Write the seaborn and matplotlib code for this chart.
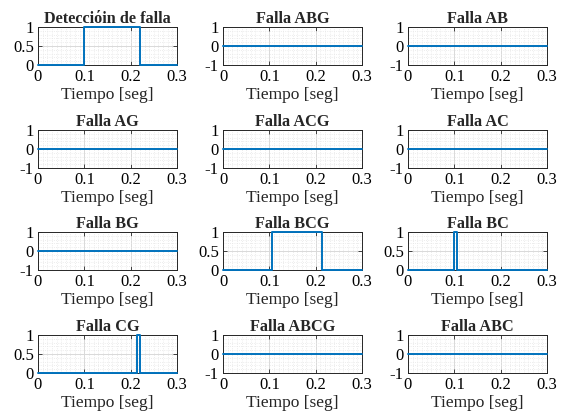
import numpy as np
import pandas as pd
import seaborn as sns
import matplotlib.pyplot as plt
from matplotlib.ticker import MultipleLocator

sns.set_style("white")
plt.rcParams['font.family'] = ['Liberation Serif', 'DejaVu Serif']

titles = ["Detecciόin de falla", "Falla ABG", "Falla AB",
          "Falla AG", "Falla ACG", "Falla AC",
          "Falla BG", "Falla BCG", "Falla BC",
          "Falla CG", "Falla ABCG", "Falla ABC"]

# Switching instants (s) and the output level held from each instant on
t_det = [0.0, 0.100, 0.221, 0.3];  v_det = [0, 1, 0, 0]
t_bcg = [0.0, 0.106, 0.213, 0.3];  v_bcg = [0, 1, 0, 0]
t_bc = [0.0, 0.100, 0.106, 0.3];   v_bc = [0, 1, 0, 0]
t_cg = [0.0, 0.213, 0.221, 0.3];   v_cg = [0, 1, 0, 0]
t_flat = [0.0, 0.3];               v_flat = [0, 0]

signals = [(t_det, v_det), (t_flat, v_flat), (t_flat, v_flat),
           (t_flat, v_flat), (t_flat, v_flat), (t_flat, v_flat),
           (t_flat, v_flat), (t_bcg, v_bcg), (t_bc, v_bc),
           (t_cg, v_cg), (t_flat, v_flat), (t_flat, v_flat)]

active = [True, False, False, False, False, False,
          False, True, True, True, False, False]

W, H = 563, 418
fig = plt.figure(figsize=(W / 100, H / 100), dpi=100)

col_x = [38, 223, 408]
row_y = [27, 130, 232, 335]
aw, ah = 139, 38

blue = "#0072BD"
for i, (title, (t, v)) in enumerate(zip(titles, signals)):
    r, c = divmod(i, 3)
    ax = fig.add_axes([col_x[c] / W, 1 - (row_y[r] + ah) / H, aw / W, ah / H])
    df = pd.DataFrame({"t": t, "v": v})
    sns.lineplot(data=df, x="t", y="v", ax=ax, color=blue, linewidth=1.4,
                 drawstyle="steps-post", zorder=3)
    for ln in ax.lines:
        ln.set_clip_on(False)
    ax.set_xlim(0, 0.3)
    ax.set_xticks([0, 0.1, 0.2, 0.3])
    ax.set_xticklabels(["0", "0.1", "0.2", "0.3"])
    ax.xaxis.set_minor_locator(MultipleLocator(0.01))
    if active[i]:
        ax.set_ylim(0, 1)
        ax.set_yticks([0, 0.5, 1])
        ax.set_yticklabels(["0", "0.5", "1"])
        ax.yaxis.set_minor_locator(MultipleLocator(0.1))
    else:
        ax.set_ylim(-1, 1)
        ax.set_yticks([-1, 0, 1])
        ax.set_yticklabels(["-1", "0", "1"])
        ax.yaxis.set_minor_locator(MultipleLocator(0.2))
    ax.grid(which="major", color="#d9d9d9", linewidth=0.7, linestyle="-")
    ax.grid(which="minor", color="#e6e6e6", linewidth=0.6, linestyle=":")
    ax.set_axisbelow(True)
    ax.tick_params(which="major", direction="in", length=3, width=0.6,
                   labelsize=12, pad=3, colors="#262626", labelcolor="black",
                   top=True, right=True, bottom=True, left=True)
    ax.tick_params(which="minor", length=0)
    for s in ax.spines.values():
        s.set_color("#262626")
        s.set_linewidth(0.7)
    ax.set_title(title, fontsize=11.7, fontweight="bold", pad=3)
    ax.set_xlabel("Tiempo [seg]", fontsize=12.5, labelpad=1)
    ax.set_ylabel("")

fig.savefig("out.png", dpi=100, facecolor="white")
